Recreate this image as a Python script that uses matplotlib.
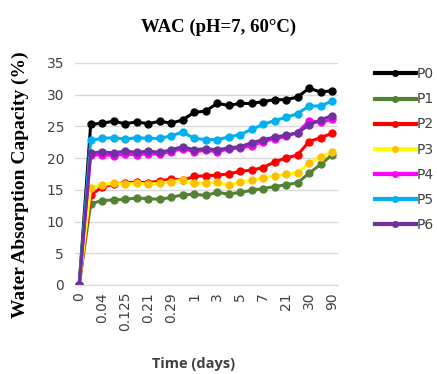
import matplotlib
matplotlib.use("Agg")
import matplotlib.pyplot as plt

# 23 sampling points, only every other one is labelled on the axis
tick_labels = ["0", "0.04", "0.125", "0.21", "0.29", "1", "3", "5", "7", "21", "30", "90"]
n_points = 23

P0 = [0, 25.3, 25.5, 25.8, 25.4, 25.7, 25.4, 25.8, 25.5, 26.0, 27.2, 27.4,
      28.6, 28.3, 28.6, 28.6, 28.9, 29.2, 29.2, 29.6, 31.0, 30.4, 30.6]
P1 = [0, 12.8, 13.3, 13.4, 13.5, 13.7, 13.6, 13.5, 13.8, 14.2, 14.3, 14.1,
      14.6, 14.3, 14.6, 14.9, 15.2, 15.5, 15.8, 16.1, 17.6, 19.0, 20.5]
P2 = [0, 14.2, 15.4, 15.9, 16.1, 16.2, 16.1, 16.4, 16.7, 16.5, 17.1, 17.2,
      17.3, 17.5, 17.9, 18.1, 18.5, 19.4, 20.0, 20.5, 22.6, 23.2, 23.9]
P3 = [0, 15.3, 15.8, 16.0, 15.9, 16.0, 15.9, 16.0, 16.3, 16.5, 16.0, 16.1,
      16.2, 15.7, 16.2, 16.5, 16.9, 17.2, 17.5, 17.7, 19.2, 20.2, 20.9]
P4 = [0, 20.5, 20.5, 20.4, 20.6, 20.5, 20.7, 20.6, 21.0, 21.5, 21.0, 21.2,
      21.0, 21.4, 21.6, 21.9, 22.6, 23.0, 23.4, 24.0, 25.9, 25.6, 26.1]
P5 = [0, 22.8, 23.1, 23.2, 23.0, 23.2, 23.1, 23.1, 23.5, 24.1, 23.1, 22.9,
      22.9, 23.3, 23.7, 24.5, 25.3, 25.9, 26.4, 27.0, 28.2, 28.2, 29.0]
P6 = [0, 20.8, 21.0, 20.8, 21.1, 20.9, 21.1, 20.9, 21.3, 21.8, 21.3, 21.5,
      21.3, 21.6, 21.8, 22.4, 22.9, 23.3, 23.6, 24.0, 25.2, 26.0, 26.7]

names = ["P0", "P1", "P2", "P3", "P4", "P5", "P6"]
series = [P0, P1, P2, P3, P4, P5, P6]
line_colors = ["#000000", "#548235", "#FF0000", "#FFFF00", "#FF00FF", "#00B0F0", "#7030A0"]
marker_colors = ["#000000", "#548235", "#FF0000", "#FFC000", "#FF00FF", "#00B0F0", "#7030A0"]

fig = plt.figure(figsize=(4.37, 3.74), dpi=100)
ax = fig.add_axes([0.172, 0.238, 0.601, 0.594])

x = list(range(n_points))
for name, y, lc, mc in zip(names, series, line_colors, marker_colors):
    ax.plot(x, y, color=lc, linewidth=2.2, marker="o", markersize=5,
            markerfacecolor=mc, markeredgecolor=mc, label=name)

ax.set_xlim(-0.35, 22.5)
ax.set_ylim(0, 35)
ax.set_yticks(range(0, 36, 5))
ax.set_xticks(range(0, n_points, 2))
ax.set_xticklabels(tick_labels, rotation=90)
ax.tick_params(length=0, labelsize=10, colors="#404040")
ax.tick_params(axis="x", pad=5)
ax.tick_params(axis="y", pad=8)
ax.grid(axis="y", color="#D9D9D9", linewidth=1)
ax.set_axisbelow(True)
for s in ["top", "right", "left"]:
    ax.spines[s].set_visible(False)
ax.spines["bottom"].set_color("#D9D9D9")

ax.set_ylabel("Water Absorption Capacity (%)", family="Liberation Serif",
              fontweight="bold", fontsize=14)
ax.yaxis.set_label_coords(-0.175, 0.45)
fig.text(0.5, 0.928, "WAC (pH=7, 60°C)", family="Liberation Serif",
         fontweight="bold", fontsize=13.5, ha="center", va="center")
fig.text(0.442, 0.027, "Time (days)", family="Open Sans", fontweight="bold",
         fontsize=10.5, ha="center", va="center", color="#404040")

leg = fig.legend(loc="upper left", bbox_to_anchor=(0.846, 0.835), frameon=False,
                 fontsize=10, handlelength=2.9, handletextpad=0.1,
                 labelspacing=0.8, borderaxespad=0, markerscale=0.8)
for line in leg.get_lines():
    line.set_linewidth(3)
for t in leg.get_texts():
    t.set_color("#404040")

fig.savefig("out.png", dpi=100)
